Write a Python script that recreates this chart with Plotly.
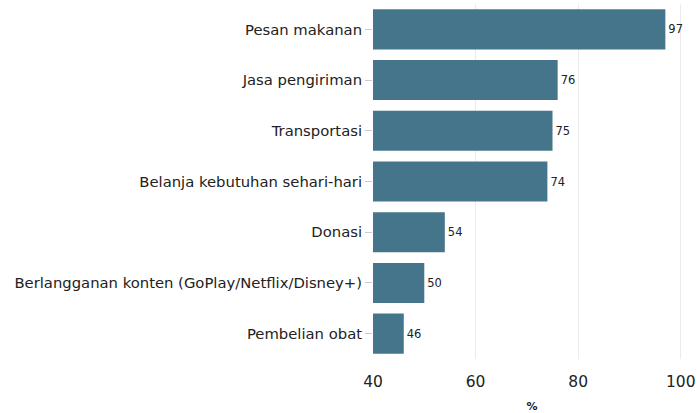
import plotly.graph_objects as go

categories = ["Pesan makanan", "Jasa pengiriman", "Transportasi",
              "Belanja kebutuhan sehari-hari", "Donasi",
              "Berlangganan konten (GoPlay/Netflix/Disney+)", "Pembelian obat"]
values = [97, 76, 75, 74, 54, 50, 46]
x_ticks = [40, 60, 80, 100]

fig = go.Figure(go.Bar(
    y=categories, x=values, orientation="h",
    marker=dict(color="#3b6e84", opacity=0.95, line=dict(width=0)),
    text=[str(v) for v in values], textposition="outside",
    textfont=dict(size=11.5, color="#222"), cliponaxis=False,
))
fig.update_layout(
    width=697, height=413,
    margin=dict(l=373, r=6, t=4, b=54, autoexpand=False),
    plot_bgcolor="white", paper_bgcolor="white",
    font=dict(family="DejaVu Sans", color="#222"),
    bargap=0.21,
    showlegend=False,
)
fig.update_xaxes(range=[40, 102], tickvals=x_ticks, showgrid=True,
                 gridcolor="#ebebeb", zeroline=False, showline=False,
                 automargin=False, ticklabelstandoff=11,
                 tickfont=dict(size=15.5, color="#222"),
                 title=dict(text="<b>%</b>", font=dict(size=11), standoff=13))
fig.update_yaxes(categoryorder="array", categoryarray=categories[::-1],
                 showgrid=False, ticks="outside", ticklen=7, tickcolor="#ccc",
                 automargin=False,
                 tickfont=dict(size=14.8, color="#222"), showline=False)
fig.write_html("out.html", config={"displayModeBar": False},
               post_script="document.body.style.margin='0';document.body.style.overflow='hidden';")
